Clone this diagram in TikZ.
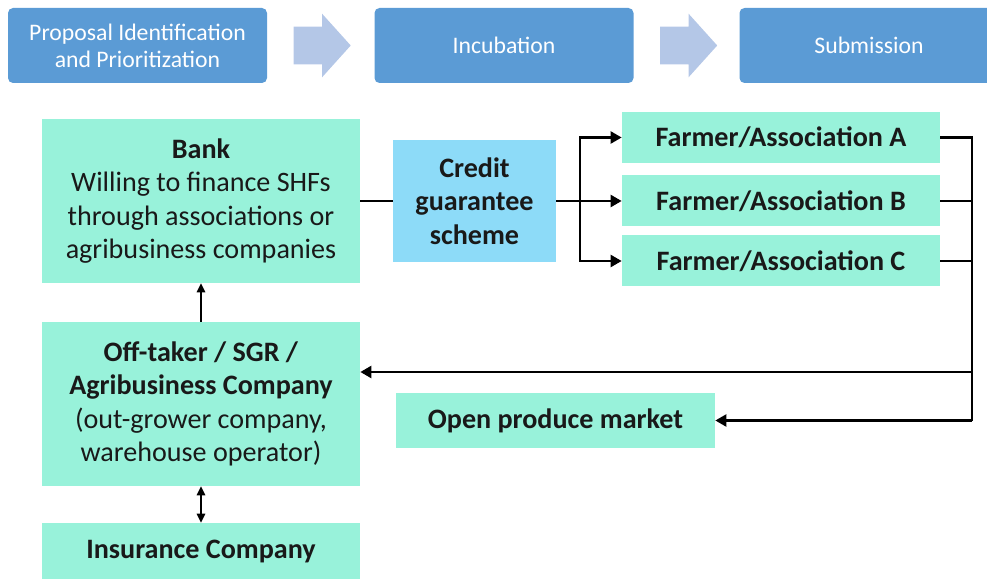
\documentclass[tikz,border=0pt]{standalone}
\usepackage{fontspec}
\setmainfont{Carlito}
\usepackage{tikz}
\usetikzlibrary{calc,shapes.arrows,arrows.meta}
\definecolor{stageblue}{HTML}{5B9BD5}
\definecolor{chevcol}{HTML}{B4C7E7}
\definecolor{mint}{HTML}{98F2DA}
\definecolor{sky}{HTML}{8DDBF8}

\begin{document}
\begin{tikzpicture}[
    stagebox/.style={fill=stageblue, rounded corners=0.1cm, text=white, align=center,
      minimum width=5.18cm, minimum height=1.5cm, font=\fontsize{13.5}{15.5}\selectfont},
    stagearr/.style={single arrow, fill=chevcol, draw=none, inner xsep=0pt, inner ysep=0.37cm,
      minimum height=1.14cm, anchor=tail,
      single arrow head extend=0.26cm, single arrow tip angle=96},
    actor/.style={fill=mint, align=center, text=black!90, inner sep=0pt,
      font=\fontsize{16}{19}\selectfont},
    flow/.style={line width=1.3pt, -{Triangle[length=2.2mm,width=2.4mm]}},
    link/.style={line width=1.3pt},
    lift/.style={line width=0.9pt, -{Triangle[length=1.8mm,width=1.7mm]}},
  ]
  \useasboundingbox (0,0) rectangle (19.74,-11.58);

  \node[stagebox] (s1) at (2.75,-0.91) {Proposal Identification\\and Prioritization};
  \node[stagebox] (s2) at (10.08,-0.91) {Incubation};
  \node[stagebox] (s3) at (17.38,-0.91) {Submission};
  \node[stagearr] (a1) at ($(s1.east)+(0.52,0)$) {};
  \node[stagearr] (a2) at ($(s2.east)+(0.52,0)$) {};

  \node[actor, minimum width=6.36cm, minimum height=3.28cm] (bank) at (4.02,-4.02)
    {\textbf{Bank}\\Willing to finance SHFs\\through associations or\\agribusiness companies};
  \node[actor, fill=sky, minimum width=3.26cm, minimum height=2.44cm] (credit) at (9.49,-4.02)
    {\textbf{Credit}\\\textbf{guarantee}\\\textbf{scheme}};
  \node[actor, minimum width=6.36cm, minimum height=1.02cm] (fA) at (15.62,-2.75) {\textbf{Farmer/Association A}};
  \node[actor, minimum width=6.36cm, minimum height=1.02cm] (fB) at (15.62,-4.02) {\textbf{Farmer/Association B}};
  \node[actor, minimum width=6.36cm, minimum height=1.02cm] (fC) at (15.62,-5.22) {\textbf{Farmer/Association C}};
  \node[actor, minimum width=6.36cm, minimum height=3.28cm] (off) at (4.02,-8.08)
    {\textbf{Off-taker / SGR /}\\\textbf{Agribusiness Company}\\(out-grower company,\\warehouse operator)};
  \node[actor, minimum width=6.38cm, minimum height=1.1cm] (market) at (11.11,-8.41) {\textbf{Open produce market}};
  \node[actor, minimum width=6.36cm, minimum height=1.14cm] (ins) at (4.02,-11.03) {\textbf{Insurance Company}};

  \draw[link] (bank.east) -- (credit.west);
  \coordinate (split) at (11.6,-4.02);
  \draw[flow] (credit.east) -- (fB.west);
  \draw[flow] (split) |- (fA.west);
  \draw[flow] (split) |- (fC.west);

  \coordinate (back) at (19.44,-2.75);
  \draw[link] (fA.east) -- (back) -- (back |- market.east);
  \draw[link] (fB.east) -- (fB.east -| back);
  \draw[link] (fC.east) -- (fC.east -| back);
  \coordinate (ret) at (19.44,-7.44);
  \draw[flow] (ret) -- (ret -| off.east);
  \draw[flow] (back |- market.east) -- (market.east);

  \draw[lift] (off.north) -- (bank.south);
  \draw[line width=0.9pt, {Triangle[length=1.8mm,width=1.7mm]}-{Triangle[length=1.8mm,width=1.7mm]}] (off.south) -- (ins.north);
\end{tikzpicture}
\end{document}
